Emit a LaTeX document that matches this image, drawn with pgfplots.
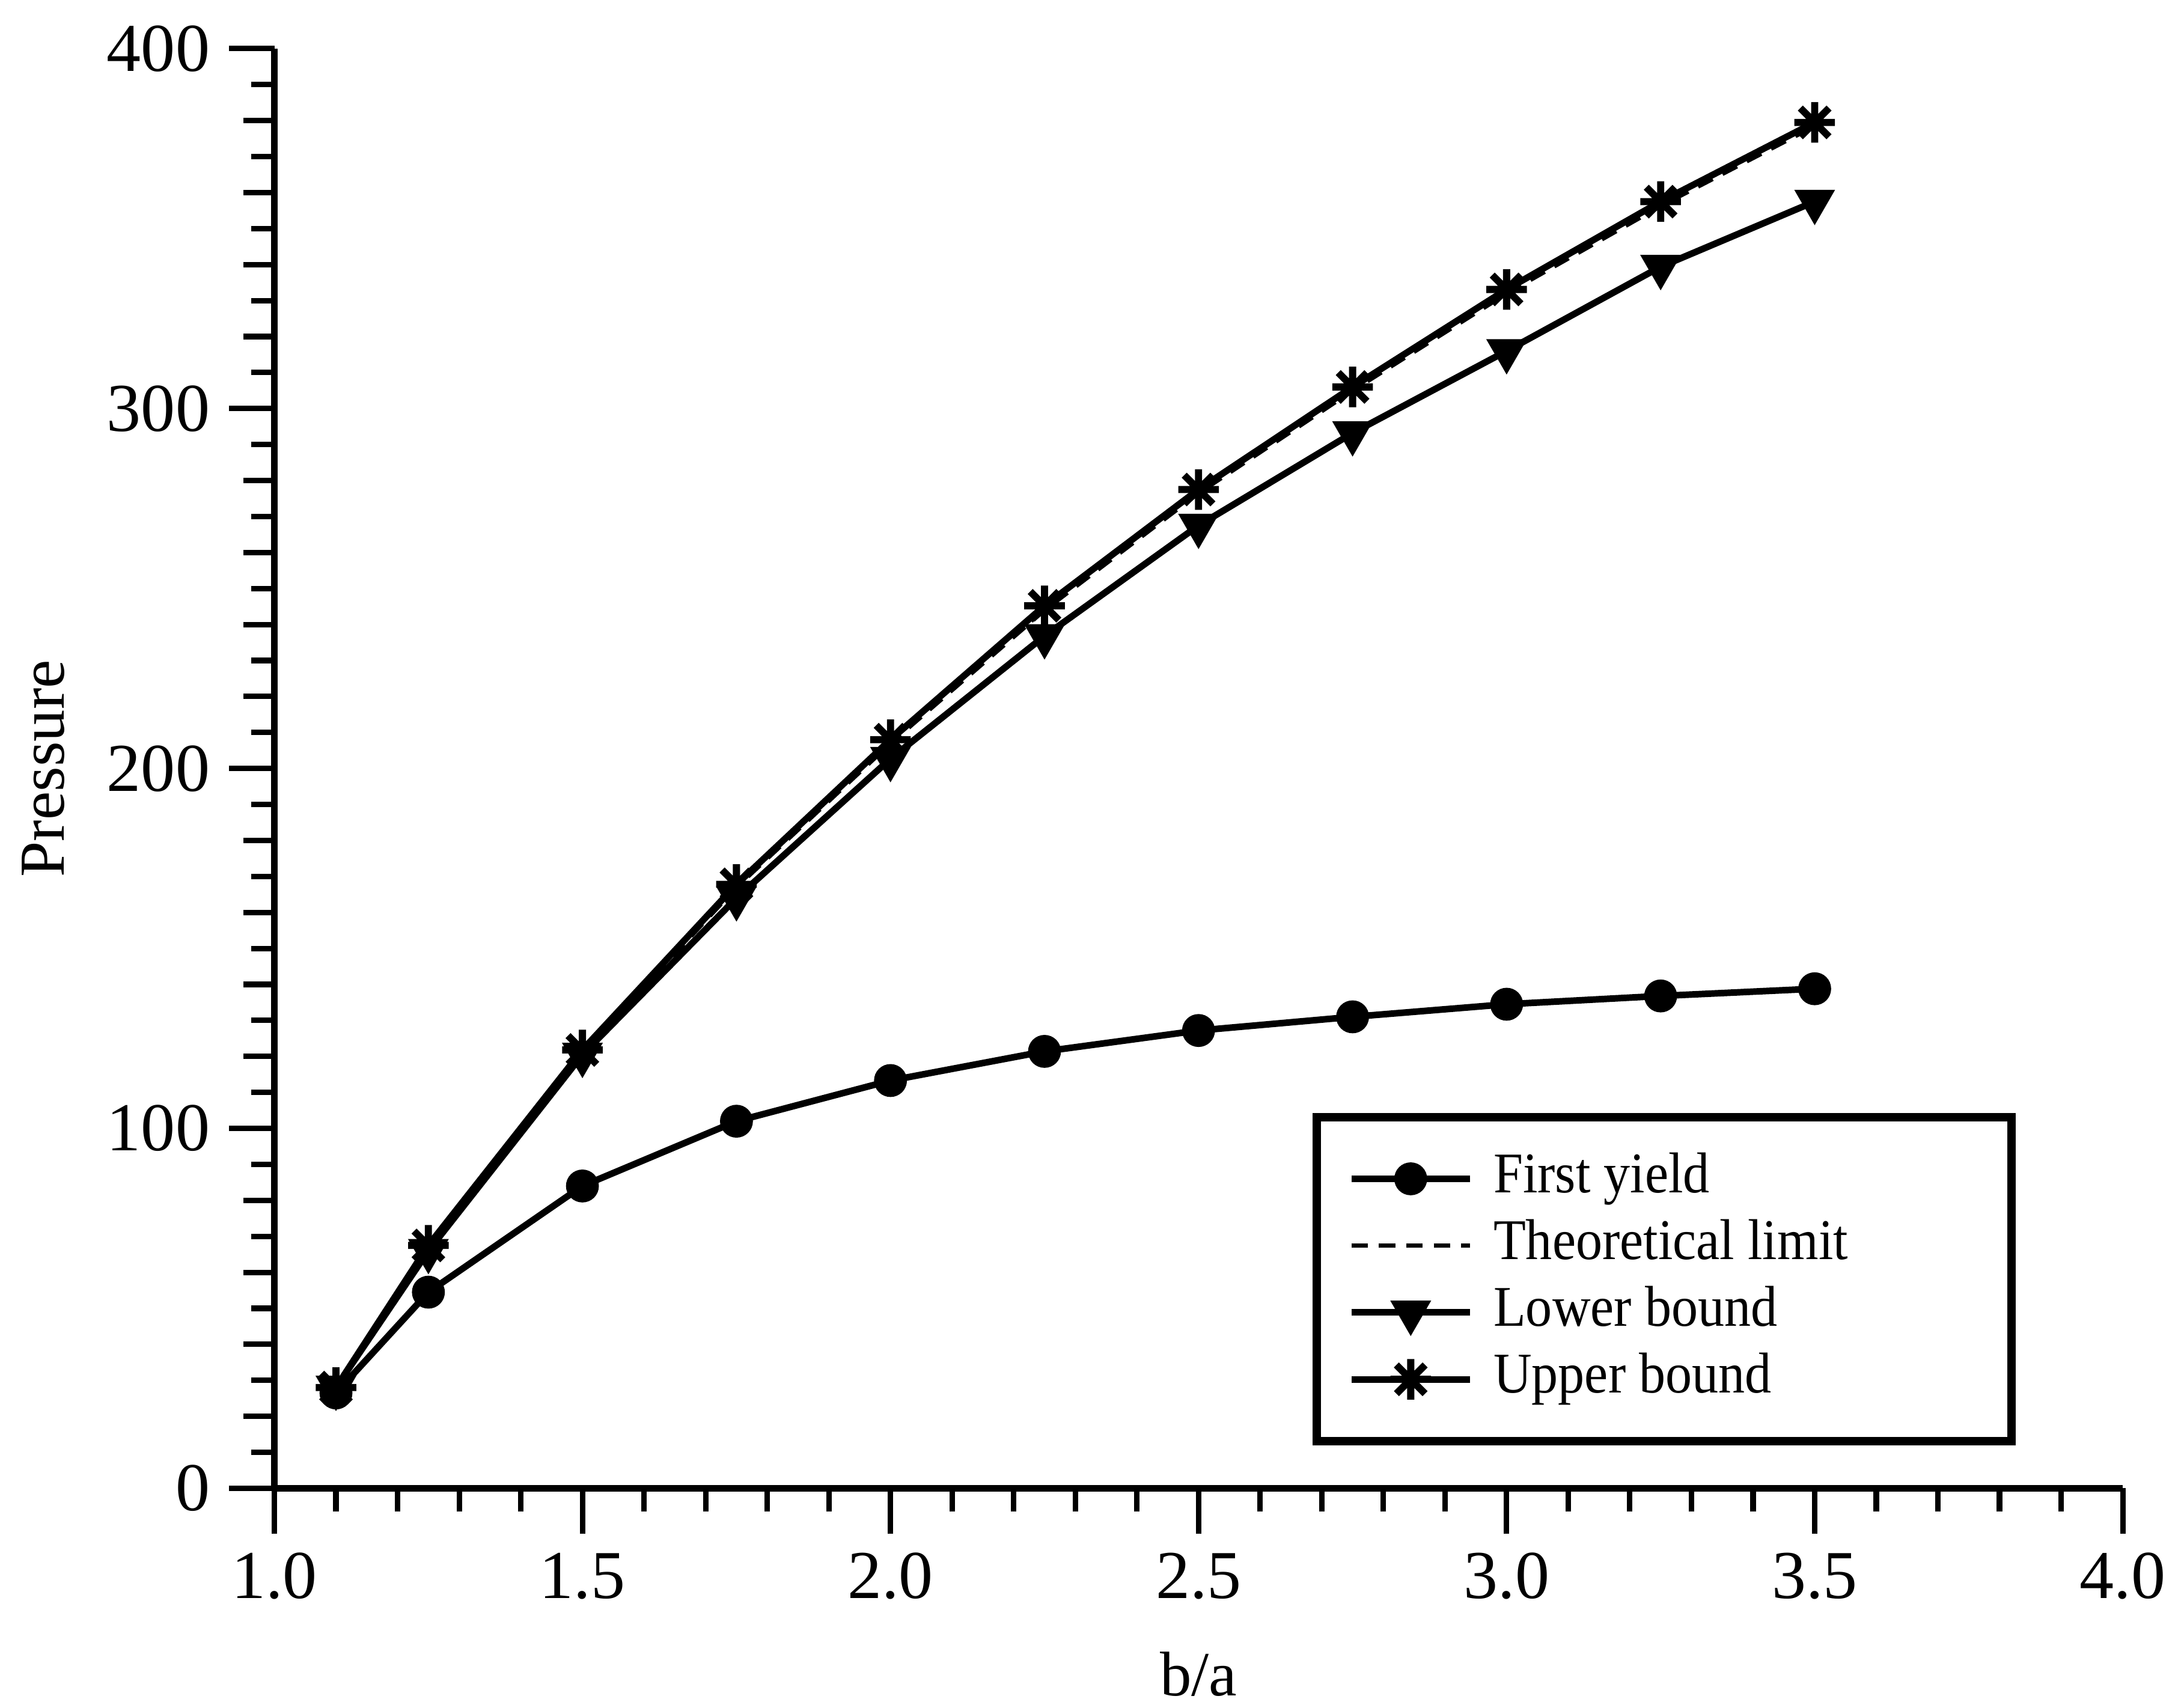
\documentclass[border=0pt]{standalone}
\usepackage{fontspec}
\setmainfont{Liberation Serif}
\newfontfamily\legfont[FakeStretch=0.92]{Liberation Serif}
\usepackage{pgfplots}
\pgfplotsset{compat=1.18}

\pgfdeclareplotmark{ast8}{%
  \pgfpathmoveto{\pgfqpoint{0pt}{\pgfplotmarksize}}%
  \pgfpathlineto{\pgfqpoint{0pt}{-\pgfplotmarksize}}%
  \pgfpathmoveto{\pgfqpoint{\pgfplotmarksize}{0pt}}%
  \pgfpathlineto{\pgfqpoint{-\pgfplotmarksize}{0pt}}%
  \pgfpathmoveto{\pgfqpoint{0.7071\pgfplotmarksize}{0.7071\pgfplotmarksize}}%
  \pgfpathlineto{\pgfqpoint{-0.7071\pgfplotmarksize}{-0.7071\pgfplotmarksize}}%
  \pgfpathmoveto{\pgfqpoint{-0.7071\pgfplotmarksize}{0.7071\pgfplotmarksize}}%
  \pgfpathlineto{\pgfqpoint{0.7071\pgfplotmarksize}{-0.7071\pgfplotmarksize}}%
  \pgfusepathqstroke
}

\begin{document}
\begin{tikzpicture}
\begin{axis}[
  scale only axis,
  width=11.85cm, height=9.23cm,
  xmin=1, xmax=4, ymin=0, ymax=400,
  axis x line=bottom, axis y line=left,
  axis line style={-, line width=1.3pt, black},
  xtick={1,1.5,2,2.5,3,3.5,4},
  ytick={0,100,200,300,400},
  minor x tick num=4,
  minor ytick={10,30,50,70,90,110,130,150,170,190,210,230,250,270,290,310,330,350,370,390},
  extra y ticks={20,40,60,80,120,140,160,180,220,240,260,280,320,340,360,380},
  extra y tick labels={},
  extra y tick style={major tick length=0.2cm},
  tick align=outside,
  major tick length=0.29cm,
  minor tick length=0.15cm,
  every tick/.style={black, line width=1pt},
  /pgf/number format/assume math mode=true,
  tick label style={font=\fontsize{12.5}{14}\selectfont},
  xticklabel style={/pgf/number format/.cd, fixed, fixed zerofill, precision=1},
  yticklabel style={/pgf/number format/.cd, fixed, precision=0},
  xlabel={b/a},
  ylabel={Pressure},
  every axis x label/.style={at={(axis description cs:0.5,-0.100)}, anchor=north, font=\fontsize{11.5}{13}\selectfont},
  every axis y label/.style={at={(axis description cs:-0.125,0.5)}, anchor=center, rotate=90, font=\fontsize{11.7}{13}\selectfont},
  legend style={at={(axis cs:3.826,12)}, anchor=south east, draw=black, line width=1.5pt, fill=white,
    inner xsep=0.2cm, inner ysep=0.22cm, row sep=0.077cm, column sep=0.13cm,
    font=\legfont\fontsize{10.5}{12}\selectfont,
    nodes={inner sep=0pt, text height=0.75em, text depth=0.25em}},
  legend cell align=left,
  legend image code/.code={\draw[mark repeat=2, mark phase=2] plot coordinates {(0cm,0cm) (0.38cm,0cm) (0.76cm,0cm)};},
]
\addplot[black, line width=1.2pt, mark=*, mark size=2.4pt, mark options={solid}] coordinates {
  (1.1,26.5) (1.25,54.5) (1.5,84.0) (1.75,102.0) (2.0,113.3) (2.25,121.4)
  (2.5,127.2) (2.75,131.0) (3.0,134.5) (3.25,136.8) (3.5,138.8)};
\addlegendentry{\makebox[3.12cm][l]{First yield}}
\addplot[black, line width=0.8pt, densely dashed] coordinates {
  (1.1,28.0) (1.25,67.0) (1.5,121.0) (1.75,167.0) (2.0,207.0) (2.25,244.0)
  (2.5,276.5) (2.75,305.0) (3.0,332.0) (3.25,356.3) (3.5,378.5)};
\addlegendentry{\makebox[3.12cm][l]{Theoretical limit}}
\addplot[black, line width=1.2pt, mark=triangle*, mark size=3.1pt, mark options={solid, rotate=180}] coordinates {
  (1.1,28.0) (1.25,66.0) (1.5,120.5) (1.75,164.0) (2.0,202.7) (2.25,236.8)
  (2.5,267.5) (2.75,293.2) (3.0,316.0) (3.25,339.4) (3.5,357.5)};
\addlegendentry{\makebox[3.12cm][l]{Lower bound}}
\addplot[black, line width=1.2pt, mark=ast8, mark size=3.7pt, mark options={solid, line width=1.3pt}] coordinates {
  (1.1,28.0) (1.25,67.5) (1.5,121.8) (1.75,167.8) (2.0,208.0) (2.25,245.2)
  (2.5,277.5) (2.75,306.0) (3.0,333.1) (3.25,357.5) (3.5,379.5)};
\addlegendentry{\makebox[3.12cm][l]{Upper bound}}
\end{axis}
\pgfresetboundingbox
\path ([xshift=-1.759cm,yshift=-1.389cm]current axis.south west) rectangle ([xshift=0.393cm,yshift=0.312cm]current axis.north east);
\end{tikzpicture}
\end{document}
